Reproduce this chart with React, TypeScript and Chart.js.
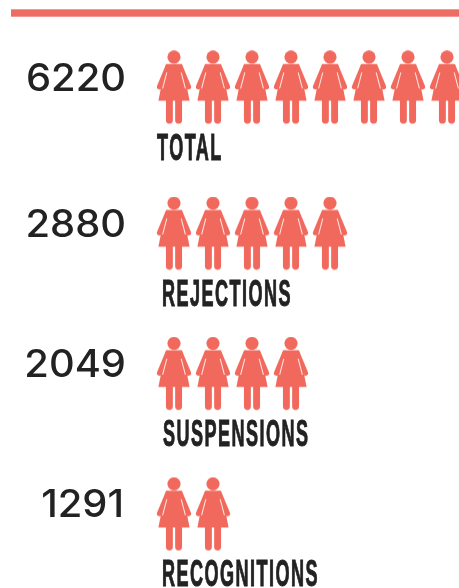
import React, { useEffect, useRef } from "react";
import { Chart, registerables } from "chart.js";

Chart.register(...registerables);

// Data
const categories = ["TOTAL", "REJECTIONS", "SUSPENSIONS", "RECOGNITIONS"];
const totals = ["6220", "2880", "2049", "1291"];
const iconCounts = [8, 5, 4, 2];

// Style and layout
const CORAL = "#F1695D";
const INK = "#222222";
const ROW_NUDGE = [-5.75, 0, 0, 0.25];
const LABEL_X = [157, 162, 163, 162];
const VALUE_RIGHT = [126, 126, 126, 124];

function makeIcon(nudge: number): HTMLCanvasElement {
  const w = 36;
  const h = 74 + 2 * Math.abs(nudge);
  const c = document.createElement("canvas");
  c.width = w;
  c.height = Math.ceil(h);
  const g = c.getContext("2d")!;
  g.translate(0, (c.height - 74) / 2 + nudge);
  g.fillStyle = CORAL;
  g.strokeStyle = CORAL;
  g.lineCap = "round";
  g.lineJoin = "round";
  // head
  g.beginPath();
  g.arc(18, 6.6, 6.6, 0, Math.PI * 2);
  g.fill();
  // arms
  g.lineWidth = 5.4;
  g.beginPath();
  g.moveTo(11.8, 16.6);
  g.lineTo(3.6, 36.2);
  g.moveTo(24.2, 16.6);
  g.lineTo(32.4, 36.2);
  g.stroke();
  // dress
  g.beginPath();
  g.moveTo(10, 13.6);
  g.lineTo(26, 13.6);
  g.lineTo(28, 22);
  g.lineTo(33.6, 50.2);
  g.lineTo(2.4, 50.2);
  g.lineTo(8, 22);
  g.closePath();
  g.fill();
  // legs
  g.lineWidth = 6.9;
  g.beginPath();
  g.moveTo(13.4, 48);
  g.lineTo(13.4, 69.8);
  g.moveTo(22.6, 48);
  g.lineTo(22.6, 69.8);
  g.stroke();
  // slits between arms and dress
  g.globalCompositeOperation = "destination-out";
  g.lineCap = "butt";
  g.lineWidth = 0.9;
  g.beginPath();
  g.moveTo(10.8, 22);
  g.lineTo(6.6, 38);
  g.moveTo(25.2, 22);
  g.lineTo(29.4, 38);
  g.stroke();
  return c;
}

export default function App() {
  const ref = useRef<HTMLCanvasElement>(null);

  useEffect(() => {
    if (!ref.current) return;

    const decorations = {
      id: "decorations",
      beforeDatasetsDraw(chart: any) {
        const { ctx } = chart;
        ctx.save();
        ctx.fillStyle = "#EE6D62";
        ctx.fillRect(11, 9.3, 448, 7.4);
        ctx.restore();
      },
      afterDatasetsDraw(chart: any) {
        const { ctx, scales } = chart;
        categories.forEach((name, row) => {
          const cy = scales.y.getPixelForValue(row) + ROW_NUDGE[row];
          ctx.save();
          ctx.fillStyle = INK;
          ctx.textAlign = "right";
          ctx.textBaseline = "alphabetic";
          ctx.font = "500 38px Inter, sans-serif";
          ctx.translate(VALUE_RIGHT[row], cy + 3);
          ctx.scale(1.05, 1);
          ctx.fillText(totals[row], 0, 0);
          ctx.restore();

          ctx.save();
          ctx.fillStyle = INK;
          ctx.strokeStyle = INK;
          ctx.lineWidth = 1;
          ctx.textAlign = "left";
          ctx.textBaseline = "alphabetic";
          ctx.font = 'bold 37px "Liberation Sans Narrow", "Liberation Sans", sans-serif';
          (ctx as any).letterSpacing = "3px";
          ctx.translate(LABEL_X[row], cy + 72);
          ctx.scale(0.488, 1);
          ctx.fillText(name, 0, 0);
          ctx.strokeText(name, 0, 0);
          ctx.restore();
        });
      },
    };

    const datasets = categories.map((name, row) => ({
      label: name,
      data: Array.from({ length: iconCounts[row] }, (_, i) => ({ x: i, y: row })),
      pointStyle: makeIcon(ROW_NUDGE[row]),
      clip: false,
      showLine: false,
    }));

    const chart = new Chart(ref.current, {
      type: "scatter",
      data: { datasets: datasets as any },
      options: {
        responsive: false,
        animation: false,
        layout: { padding: 0, autoPadding: false },
        plugins: { legend: { display: false }, tooltip: { enabled: false } },
        scales: {
          x: { type: "linear", display: false, min: -174 / 39, max: (459 - 174) / 39 },
          y: { type: "linear", display: false, reverse: true, min: -93.25 / 140.25, max: (588 - 93.25) / 140.25 },
        },
      },
      plugins: [decorations],
    });
    return () => chart.destroy();
  }, []);

  return (
    <canvas
      ref={ref}
      width={459}
      height={588}
      style={{ position: "fixed", left: 0, top: 0, width: 459, height: 588, display: "block", background: "#fff", filter: "blur(0.4px)" }}
    />
  );
}
